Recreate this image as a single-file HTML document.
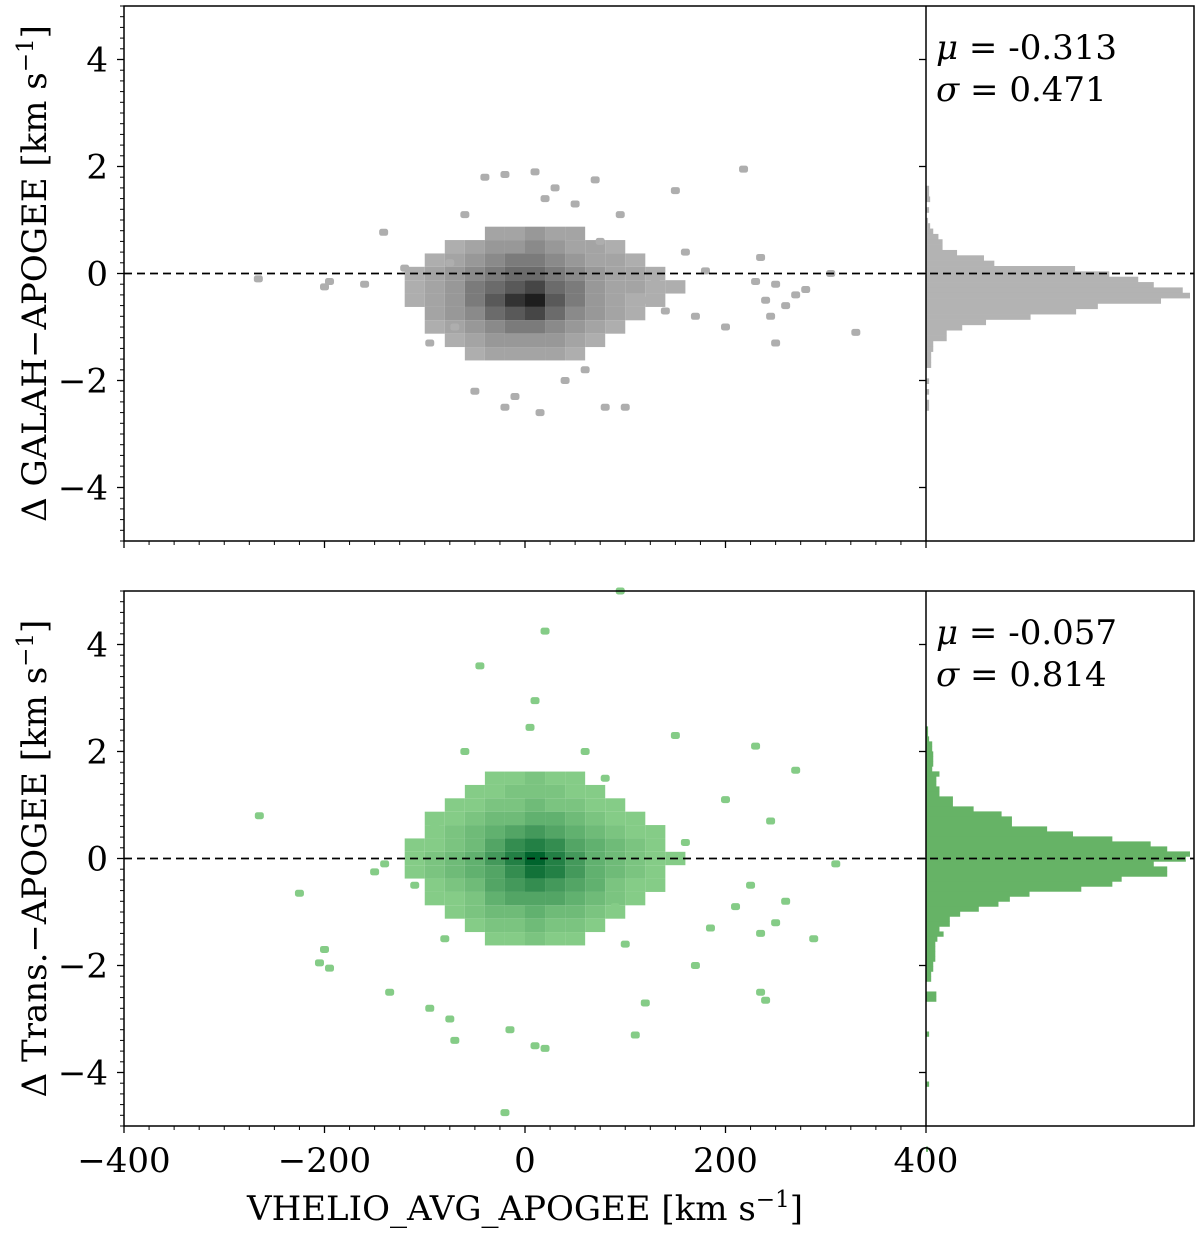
<!DOCTYPE html>
<html><head><meta charset="utf-8">
<style>
html,body{margin:0;padding:0;background:#fff;}
svg{display:block;font-family:"DejaVu Serif","Liberation Serif",serif;}
</style></head>
<body>
<svg id="chart" width="1200" height="1233" viewBox="0 0 1200 1233" xmlns="http://www.w3.org/2000/svg">
<g id="top"></g>
<g id="bot"></g>
</svg>
<script>
// ---- data ----
const coreXBins = [-110,-90,-70,-50,-30,-10,10,30,50,70,90,110,130,150];
const topCoreY = [0.75,0.5,0.25,0,-0.25,-0.5,-0.75,-1,-1.25,-1.5];
const topCoreD = [
[0,0,0,0,.2,.2,.3,.2,.2,0,0,0,0,0],
[0,0,.1,.2,.3,.3,.4,.3,.2,.2,.1,0,0,0],
[0,.1,.2,.3,.4,.5,.5,.4,.3,.2,.2,.1,0,0],
[.1,.2,.3,.4,.5,.6,.6,.5,.4,.3,.2,.2,.1,0],
[.1,.2,.3,.5,.6,.7,.8,.6,.5,.3,.2,.2,.1,.1],
[.1,.2,.3,.5,.7,.9,1,.7,.5,.3,.2,.1,.1,0],
[0,.2,.3,.4,.6,.7,.8,.6,.4,.3,.2,.1,0,0],
[0,.1,.2,.3,.4,.5,.5,.4,.3,.2,.1,0,0,0],
[0,0,.1,.2,.3,.3,.3,.3,.2,.1,0,0,0,0],
[0,0,0,.1,.2,.2,.2,.2,.1,0,0,0,0,0]];
const topOutX = [-266,-200,-195,-141,-120,-110,-95,-70,-60,-50,-40,-20,-20,-10,10,15,20,30,40,50,60,70,75,80,100,95,110,140,150,160,170,180,200,218,230,235,240,245,250,250,260,270,280,305,330,120,130,-75,-160];
const topOutY = [-0.1,-0.25,-0.15,0.77,0.1,-0.3,-1.3,-1.0,1.1,-2.2,1.8,1.85,-2.5,-2.3,1.9,-2.6,1.4,1.6,-2.0,1.3,-1.8,1.75,0.6,-2.5,-2.5,1.1,0.2,-0.7,1.55,0.4,-0.8,0.05,-1.0,1.95,-0.15,0.3,-0.5,-0.8,-1.3,-0.2,-0.6,-0.4,-0.3,0.0,-1.1,-0.5,-0.1,0.2,-0.2];
const botCoreY = [1.5,1.25,1,0.75,0.5,0.25,0,-0.25,-0.5,-0.75,-1,-1.25,-1.5];
const botCoreD = [
[0,0,0,0,.1,.1,.2,.1,.1,0,0,0,0,0],
[0,0,0,.1,.1,.2,.2,.2,.1,.1,0,0,0,0],
[0,0,.1,.1,.2,.2,.3,.2,.2,.1,.1,0,0,0],
[0,.1,.1,.2,.3,.3,.4,.4,.3,.2,.1,.1,0,0],
[0,.1,.2,.3,.4,.5,.6,.5,.4,.3,.2,.1,.1,0],
[.1,.1,.2,.3,.5,.7,.8,.7,.5,.4,.3,.2,.1,0],
[.1,.2,.3,.4,.6,.8,1,.8,.6,.4,.3,.2,.1,.1],
[.1,.2,.3,.4,.5,.7,.9,.8,.6,.4,.3,.2,.1,0],
[0,.1,.2,.3,.5,.6,.7,.6,.5,.4,.2,.1,.1,0],
[0,.1,.1,.2,.4,.5,.5,.5,.4,.3,.2,.1,0,0],
[0,0,.1,.2,.3,.3,.4,.3,.3,.2,.1,0,0,0],
[0,0,0,.1,.2,.2,.3,.2,.2,.1,0,0,0,0],
[0,0,0,0,.1,.1,.2,.1,.1,0,0,0,0,0]];
const botOutX = [-265,-225,-200,-205,-195,-135,-140,-150,-95,-75,-70,-45,20,10,5,95,-15,10,20,110,120,150,170,185,200,210,230,225,235,240,235,250,270,288,310,245,160,130,260,-20,-60,60,80,-90,-110,90,100,-80];
const botOutY = [0.8,-0.65,-1.7,-1.95,-2.05,-2.5,-0.1,-0.25,-2.8,-3.0,-3.4,3.6,4.25,2.95,2.45,5.0,-3.2,-3.5,-3.55,-3.3,-2.7,2.3,-2.0,-1.3,1.1,-0.9,2.1,-0.5,-2.5,-2.65,-1.4,-1.2,1.65,-1.5,-0.1,0.7,0.3,-0.3,-0.8,-4.75,2.0,2.0,1.5,0.6,-0.5,-0.9,-1.6,-1.5];
const topHistTop = 1.64, topHistW = 0.1;
const topHistCounts = [3,3,4,0,3,0,2,4,7,12,16,16,30,56,66,144,177,205,220,248,255,227,166,145,101,58,35,20,20,7,7,5,5,5,0,0,3,0,3,0,3,3];
const botHistTop = 2.47, botHistW = 0.0935;
const botHistCounts = [2,2,3,6,6,7,7,7,6,13,10,10,13,13,26,26,46,73,83,83,117,142,180,217,233,255,251,220,233,233,189,180,150,100,81,70,51,33,23,23,13,17,11,9,9,9,9,7,7,5,5,0,0,10,10,0,0,0,0,0,0,3,0,0,0,0,0,0,0,0,0,3,0,0,0,0,0,0,0,0,0,0,0,0,2];
const xTicks = [-400,-200,0,200,400];
const xTickLabels = ["\u2212400","\u2212200","0","200","400"];
const yTicks = [-4,-2,0,2,4];
const yTickLabels = ["\u22124","\u22122","0","2","4"];

const NS = "http://www.w3.org/2000/svg";
function mk(parent, tag, attrs, name){
  const e = document.createElementNS(NS, tag);
  for (const k in attrs) e.setAttribute(k, attrs[k]);
  
  
  parent.appendChild(e); return e;
}
const X0 = 124, X1 = 926, H1 = 1194;
const FS = 34;
const sx = v => X0 + (v + 400) / 800 * (X1 - X0);

function panel(g, top, bottom, cfg){
  const sy = v => top + (5 - v) / 10 * (bottom - top);
  const cw = sx(20) - sx(0);
  cfg.coreY.forEach((yv, r) => {
    coreXBins.forEach((xv, c) => {
      const d = cfg.coreD[r][c];
      if (d <= 0) return;
      const ch = sy(yv - 0.25) - sy(yv);
      const cell = mk(g, 'rect', {x: sx(xv) - cw/2, y: sy(yv) - ch/2, width: cw, height: ch, fill: cfg.col(d)}, 'density-cell');
    });
  });
  cfg.outX.forEach((xv, i) => {
    const p = mk(g, 'rect', {x: sx(xv) - 4.5, y: sy(cfg.outY[i]) - 3.5, width: 9, height: 7, rx: 2.5, fill: cfg.col(0.1)}, 'scatter-point');
  });
  const hs = (H1 - X1 - 4) / 255;
  cfg.hCounts.forEach((c, i) => {
    if (c <= 0) return;
    const y0 = sy(cfg.hTop - i * cfg.hW), y1 = sy(cfg.hTop - (i + 1) * cfg.hW);
    const b = mk(g, 'rect', {x: X1, y: y0, width: c * hs, height: y1 - y0 + 0.3, fill: cfg.hCol}, 'histogram-bar');
  });
  mk(g, 'line', {x1: X0, x2: H1, y1: sy(0), y2: sy(0), stroke: '#000', 'stroke-width': 1.8, 'stroke-dasharray': '8,5'}, 'zero-line');
  mk(g, 'rect', {x: X0, y: top, width: H1 - X0, height: bottom - top, fill: 'none', stroke: '#000', 'stroke-width': 1.5}, 'plot-frame');
  mk(g, 'line', {x1: X1, x2: X1, y1: top, y2: bottom, stroke: '#000', 'stroke-width': 1.5}, 'histogram-spine');
  for (let v = -5; v <= 5.001; v += 0.2) {
    const major = Math.abs(Math.round(v) - v) < 1e-6 && Math.round(v) % 2 === 0;
    mk(g, 'line', {x1: X0 - (major ? 7 : 4), x2: X0, y1: sy(v), y2: sy(v), stroke: '#000', 'stroke-width': major ? 1.3 : 1}, 'y-tick');
  }
  yTicks.forEach((v, i) => {
    mk(g, 'line', {x1: X1 - 7, x2: X1, y1: sy(v), y2: sy(v), stroke: '#000', 'stroke-width': 1.3}, 'hist-y-tick');
    const t = mk(g, 'text', {x: 108, y: sy(v) + 12, 'font-size': FS, 'text-anchor': 'end'}, 'y-tick-label');
    t.textContent = yTickLabels[i];
  });
  for (let v = -400; v <= 400; v += 25) {
    const major = v % 200 === 0;
    mk(g, 'line', {x1: sx(v), x2: sx(v), y1: bottom, y2: bottom + (major ? 7 : 4), stroke: '#000', 'stroke-width': major ? 1.3 : 1}, 'x-tick');
  }
  if (cfg.xLabels) xTicks.forEach((v, i) => {
    const t = mk(g, 'text', {x: sx(v), y: bottom + 46, 'font-size': FS, 'text-anchor': 'middle'}, 'x-tick-label');
    t.textContent = xTickLabels[i];
  });
  const cy = (top + bottom) / 2;
  const yl = mk(g, 'text', {x: 0, y: 0, 'font-size': FS, 'text-anchor': 'middle', transform: `translate(46,${cy}) rotate(-90)`}, 'y-axis-title');
  yl.innerHTML = cfg.yLabel;
  const m = mk(g, 'text', {x: 936, y: top + 53, 'font-size': FS}, 'mean-annotation');
  m.innerHTML = '<tspan font-style="italic">μ</tspan> = ' + cfg.mu;
  const s = mk(g, 'text', {x: 936, y: top + 95, 'font-size': FS}, 'sigma-annotation');
  s.innerHTML = '<tspan font-style="italic">σ</tspan> = ' + cfg.sigma;
}
function grayCol(d){ const l = Math.round(180 - 150 * Math.pow(d, 1.4)); return `rgb(${l},${l},${l})`; }
function greenCol(d){
  const t = Math.pow(d, 1.3);
  const r = Math.round(140 - 140 * t), g = Math.round(210 - 110 * t), b = Math.round(140 - 95 * t);
  return `rgb(${r},${g},${b})`;
}
panel(document.getElementById('top'), 6, 541, {coreY: topCoreY, coreD: topCoreD, outX: topOutX, outY: topOutY, col: grayCol,
  hTop: topHistTop, hW: topHistW, hCounts: topHistCounts, hCol: '#b3b3b3', xLabels: false,
  yLabel: 'Δ GALAH−APOGEE [km s<tspan dy="-13" font-size="23">−1</tspan><tspan dy="13">]</tspan>', mu: '-0.313', sigma: '0.471'});
panel(document.getElementById('bot'), 591, 1126, {coreY: botCoreY, coreD: botCoreD, outX: botOutX, outY: botOutY, col: greenCol,
  hTop: botHistTop, hW: botHistW, hCounts: botHistCounts, hCol: '#66b366', xLabels: true,
  yLabel: 'Δ Trans.−APOGEE [km s<tspan dy="-13" font-size="23">−1</tspan><tspan dy="13">]</tspan>', mu: '-0.057', sigma: '0.814'});
const xl = document.createElementNS(NS, 'text');


xl.setAttribute('x', 525); xl.setAttribute('y', 1220); xl.setAttribute('font-size', FS); xl.setAttribute('text-anchor', 'middle');
xl.innerHTML = 'VHELIO_AVG_APOGEE [km s<tspan dy="-13" font-size="23">−1</tspan><tspan dy="13">]</tspan>';
document.getElementById('chart').appendChild(xl);
</script>
</body></html>
